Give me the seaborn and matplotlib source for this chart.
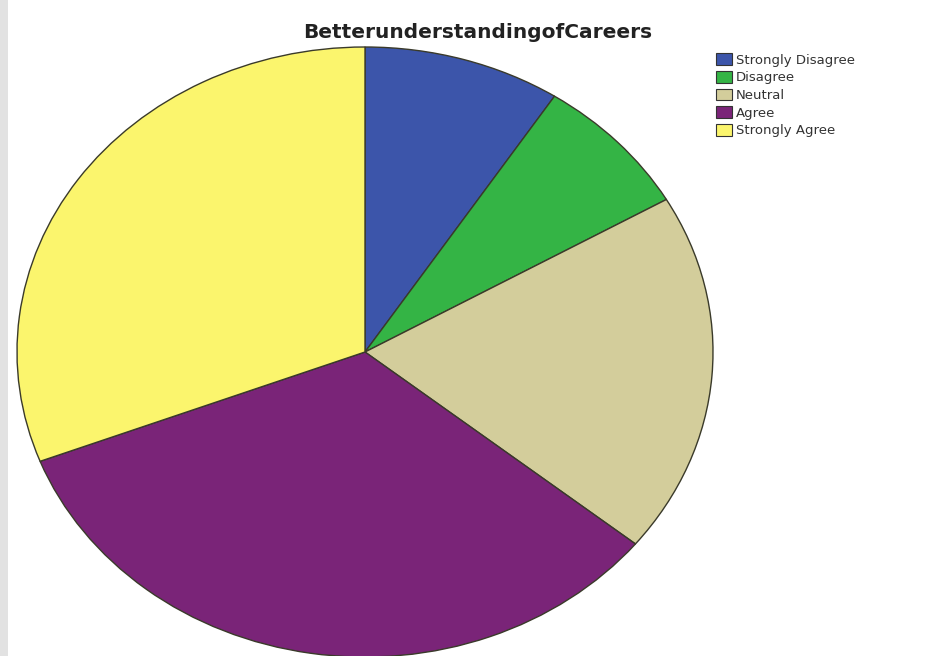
import numpy as np
import pandas as pd
import matplotlib
matplotlib.use('Agg')
import matplotlib.pyplot as plt
import matplotlib.patches as mpatches
import seaborn as sns

sns.set_theme(style='white')
plt.rcParams['font.family'] = ['DejaVu Sans']

# data (approx counts)
categories = ['Strongly Disagree', 'Disagree', 'Neutral', 'Agree', 'Strongly Agree']
counts = [11, 9, 23, 40, 37]
colors = ['#3c55aa', '#34b445', '#d3cd9b', '#7a2478', '#fbf56d']

df = pd.DataFrame({'answer': categories, 'count': counts})
pal = sns.color_palette(colors)

fig = plt.figure(figsize=(9.28, 6.56), dpi=100)
fig.patch.set_facecolor('white')

# thin grey band on the left edge
fig.patches.append(mpatches.Rectangle((0, 0), 8 / 928, 1, transform=fig.transFigure,
                                      facecolor='#e2e2e2', edgecolor='none', zorder=0))

# axes box = bounding box of the (elliptical) pie
ax = fig.add_axes([17 / 928, -1 / 656, 696 / 928, 610 / 656])
wedges, _ = ax.pie(df['count'], colors=pal, startangle=90, counterclock=False,
                   wedgeprops=dict(edgecolor='#3a3a2a', linewidth=1.0))
ax.set_aspect('auto')
ax.set_xlim(-1, 1)
ax.set_ylim(-1, 1)
ax.axis('off')

fig.text(478 / 928, 1 - 32 / 656, 'BetterunderstandingofCareers', ha='center', va='center',
         fontsize=14.5, fontweight='bold', color='#222222')

handles = [mpatches.Patch(facecolor=c, edgecolor='#333333', linewidth=0.8, label=l)
           for c, l in zip(colors, categories)]
leg = fig.legend(handles=handles, loc='upper left', bbox_to_anchor=(711 / 928, 1 - 48 / 656),
                 frameon=False, fontsize=9.5, handlelength=1.2, handleheight=1.0,
                 handletextpad=0.3, labelspacing=0.32, borderaxespad=0)
for t in leg.get_texts():
    t.set_color('#333333')

fig.savefig('out.png', dpi=100, facecolor='white')
